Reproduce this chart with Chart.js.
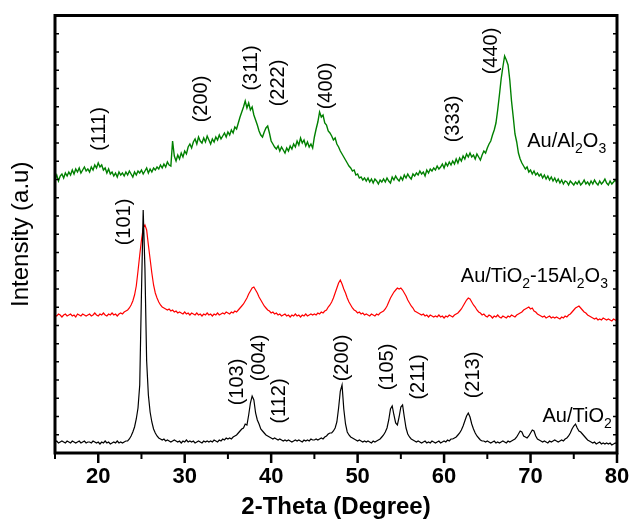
<!DOCTYPE html>
<html><head><meta charset="utf-8">
<script src="https://cdn.jsdelivr.net/npm/chart.js@4.4.1/dist/chart.umd.min.js"></script>
<style>html,body{margin:0;padding:0;background:#fff;}</style>
</head><body>
<canvas id="c" width="630" height="522"></canvas>
<script>
// Scan grid (2-Theta, degrees)
const scanStart = 15, scanStep = 0.2;

// Intensities (arbitrary units, stacked offsets as plotted), one value per 0.2 deg from 15 to 80
const auAl2O3 = [
274,278,272,277,279,275,280,277,281,278,
283,279,284,281,285,280,283,286,282,284,
281,286,283,288,285,290,286,288,283,285,
280,284,279,281,277,280,276,281,278,280,
277,281,278,282,279,276,281,278,282,280,
283,279,282,285,280,284,281,285,283,286,
284,288,285,289,286,291,288,287,312,297,
292,298,294,300,296,302,299,306,309,305,
311,314,309,316,312,310,315,311,317,313,
309,314,311,316,313,318,314,317,320,316,
321,318,323,320,326,324,330,336,341,346,
352,345,350,343,346,338,333,328,322,318,
316,321,325,327,320,312,309,306,304,307,
302,306,303,300,305,302,307,304,309,306,
312,308,315,310,313,307,311,306,309,305,
316,324,331,341,336,338,330,328,322,320,
317,313,315,309,306,302,299,296,293,290,
287,285,282,283,278,279,275,276,273,275,
272,275,271,274,270,274,272,269,273,271,
274,271,275,272,270,276,273,277,274,272,
276,273,278,275,279,276,274,279,277,280,
278,282,279,281,277,283,280,284,282,285,
283,287,284,286,289,285,290,287,291,288,
292,289,294,290,295,292,297,294,299,296,
300,296,298,294,299,296,293,298,302,300,
305,309,312,318,323,330,343,358,374,386,
397,393,388,373,352,336,319,311,300,294,
290,287,284,286,281,283,279,282,278,280,
277,279,275,278,274,277,273,276,272,275,
271,274,270,273,269,272,271,268,272,270,
268,271,269,272,268,270,273,269,271,268,
272,269,273,270,268,272,269,271,274,270,
268,272,269,271,273,270
];
const auTiO2Al2O3 = [
138,137,139,138,136,138,139,137,138,139,
137,138,136,139,138,137,139,138,137,138,
139,137,138,140,138,137,139,138,140,138,
137,139,138,140,138,139,137,139,140,139,
141,142,143,145,148,152,158,167,182,198,
213,225,228,223,208,194,180,168,160,155,
151,148,146,145,144,143,144,142,143,141,
142,140,141,140,139,141,139,140,138,140,
139,138,140,138,139,137,139,138,140,138,
139,137,139,138,140,138,139,140,139,141,
140,139,141,140,142,141,143,145,147,149,
152,155,159,162,165,166,163,160,156,153,
150,147,145,143,142,140,141,139,140,138,
139,137,138,139,137,138,136,138,137,139,
137,138,136,138,137,139,137,138,139,138,
139,138,140,139,141,140,142,143,146,148,
151,155,160,165,170,173,169,164,160,155,
151,148,145,143,142,140,141,139,140,138,
139,138,137,139,138,137,139,138,140,141,
142,144,147,151,155,158,161,163,165,164,
165,163,160,157,153,150,147,145,142,141,
140,139,138,139,137,138,136,138,137,136,
137,136,138,136,137,135,137,136,138,137,
136,138,139,140,142,144,147,150,153,155,
154,151,148,146,143,141,140,138,139,137,
136,138,137,135,137,136,138,136,135,137,
136,135,137,136,138,137,136,138,139,140,
141,143,144,145,146,144,145,142,141,139,
138,137,136,137,135,136,137,135,136,135,
136,135,134,136,135,137,136,138,139,141,
143,145,146,147,145,143,141,140,138,137,
136,135,134,135,133,134,133,135,134,133,
134,133,132,134,133,132
];
const auTiO2 = [
11,12,10,11,12,11,10,12,11,10,
12,11,10,11,12,10,11,12,10,11,
11,10,12,11,10,11,9,11,10,12,
10,11,9,10,11,10,12,10,11,10,
11,12,12,14,17,21,26,34,45,68,
160,243,185,92,58,41,31,24,20,17,
15,14,13,14,12,13,12,11,12,13,
12,11,12,10,12,11,13,11,12,11,
12,10,11,12,11,10,12,11,12,11,
12,11,13,12,11,13,12,14,13,15,
14,15,14,16,17,18,20,22,24,25,
29,28,38,50,57,53,40,33,29,24,
22,20,18,17,16,15,14,15,14,13,
14,13,12,13,12,13,12,11,12,13,
12,13,12,11,13,12,13,12,14,13,
13,14,13,14,15,14,16,17,19,20,
20,22,25,31,45,62,68,44,29,21,
18,16,15,14,13,12,13,12,11,12,
11,12,11,10,12,11,12,13,14,16,
18,21,25,33,44,47,38,30,28,36,
46,48,36,25,19,16,14,13,12,11,
12,11,10,11,12,10,11,10,12,11,
10,11,12,10,11,12,11,13,12,14,
14,15,16,18,20,23,27,32,37,40,
36,29,24,20,17,15,13,12,12,11,
12,11,10,11,12,10,11,10,11,12,
11,10,12,11,12,13,14,16,19,22,
21,17,16,15,17,20,23,22,17,14,
13,12,11,12,11,10,12,11,12,13,
12,11,12,13,12,14,15,17,20,24,
27,29,25,22,21,19,17,15,13,12,
11,10,11,9,10,11,9,10,9,10,
9,10,8,9,10,9
];

const twoTheta = auTiO2.map((_, i) => +(scanStart + i * scanStep).toFixed(1));
const xTickLabels = [20, 30, 40, 50, 60, 70, 80];

// Peak (hkl) annotations: text, 2-Theta, intensity level of label centre
const peakText  = ['(111)','(200)','(311)','(222)','(400)','(333)','(440)','(101)','(103)','(004)','(112)','(200)','(105)','(211)','(213)'];
const peakTheta = [20.2, 31.9, 37.7, 40.9, 46.45, 61.1, 65.5, 22.98, 36.1, 38.7, 41.0, 48.25, 53.5, 57.0, 63.4];
const peakLevel = [324, 354, 385, 370, 367, 334, 402, 231, 71, 95, 52, 95, 86, 76, 78];

// Sample names (parts: [text, isSubscript]), right end 2-Theta and baseline level
const sampleNames = [
  [['Au/Al',0],['2',1],['O',0],['3',1]],
  [['Au/TiO',0],['2',1],['-15Al',0],['2',1],['O',0],['3',1]],
  [['Au/TiO',0],['2',1]]
];
const sampleTheta = [78.75, 78.95, 79.4];
const sampleLevel = [306, 171, 31];

const FONT = '"Liberation Sans", Arial, Helvetica, sans-serif';

const decor = {
  id: 'decor',
  afterDatasetsDraw(chart) {
    const {ctx, chartArea: a, scales: {x, y}} = chart;
    ctx.save();
    ctx.fillStyle = '#000';
    // peak labels
    ctx.font = '20px ' + FONT;
    ctx.textAlign = 'center';
    ctx.textBaseline = 'middle';
    peakText.forEach((t, i) => {
      ctx.save();
      ctx.translate(x.getPixelForValue(peakTheta[i]), y.getPixelForValue(peakLevel[i]));
      ctx.rotate(-Math.PI / 2);
      ctx.fillText(t, 0, 0);
      ctx.restore();
    });
    // sample names with subscripts
    ctx.textAlign = 'left';
    ctx.textBaseline = 'alphabetic';
    const big = '20px ' + FONT, small = '14px ' + FONT;
    sampleNames.forEach((parts, i) => {
      let w = 0;
      parts.forEach(([t, s]) => { ctx.font = s ? small : big; w += ctx.measureText(t).width; });
      let px = x.getPixelForValue(sampleTheta[i]) - w;
      const py = y.getPixelForValue(sampleLevel[i]);
      parts.forEach(([t, s]) => {
        ctx.font = s ? small : big;
        ctx.fillText(t, px, s ? py + 6 : py);
        px += ctx.measureText(t).width;
      });
    });
    // frame
    ctx.strokeStyle = '#000';
    ctx.lineWidth = 3;
    ctx.strokeRect(a.left, a.top, a.right - a.left, a.bottom - a.top);
    // x ticks (outward)
    x.ticks.forEach(t => {
      const px = x.getPixelForValue(t.value);
      const major = xTickLabels.includes(t.value);
      ctx.lineWidth = major ? 2.5 : 2;
      ctx.beginPath();
      ctx.moveTo(px, a.bottom);
      ctx.lineTo(px, a.bottom + (major ? 10 : 6));
      ctx.stroke();
    });
    // y minor ticks (inward, both sides)
    ctx.lineWidth = 1.5;
    const step = (y.max - y.min) / 24;
    for (let k = 1; k < 24; k++) {
      const py = y.getPixelForValue(y.min + k * step);
      ctx.beginPath();
      ctx.moveTo(a.left, py); ctx.lineTo(a.left + 4, py);
      ctx.moveTo(a.right, py); ctx.lineTo(a.right - 4, py);
      ctx.stroke();
    }
    ctx.restore();
  }
};

const mk = (vals) => twoTheta.map((t, i) => ({x: t, y: vals[i]}));

new Chart(document.getElementById('c'), {
  type: 'line',
  data: {
    datasets: [
      {label: 'Au/TiO2', data: mk(auTiO2), borderColor: '#000000', borderWidth: 1.2},
      {label: 'Au/TiO2-15Al2O3', data: mk(auTiO2Al2O3), borderColor: '#ff0000', borderWidth: 1.2},
      {label: 'Au/Al2O3', data: mk(auAl2O3), borderColor: '#008000', borderWidth: 1.4}
    ]
  },
  options: {
    responsive: false,
    animation: false,
    devicePixelRatio: 1,
    layout: {padding: {left: 3.2, right: 13, top: 15.5, bottom: 0}},
    elements: {point: {radius: 0}, line: {tension: 0}},
    plugins: {legend: {display: false}, tooltip: {enabled: false}},
    scales: {
      x: {
        type: 'linear', min: 15, max: 80,
        grid: {display: false, drawTicks: false},
        border: {display: false},
        afterFit: s => { s.height = 69; s.paddingRight = 0; s.paddingLeft = 0; },
        ticks: {
          stepSize: 5, autoSkip: false, maxRotation: 0, padding: 11, color: '#000',
          font: {family: FONT, size: 22, weight: 'bold'},
          callback: v => xTickLabels.includes(v) ? String(v) : ''
        },
        title: {display: true, text: '2-Theta (Degree)', color: '#000',
          font: {family: FONT, size: 24, weight: 'bold'}, padding: {top: 3, bottom: 0}}
      },
      y: {
        min: 0, max: 437.5,
        grid: {display: false, drawTicks: false},
        border: {display: false},
        ticks: {display: false},
        title: {display: true, text: 'Intensity (a.u)', color: '#000',
          font: {family: FONT, size: 24}, padding: {top: 4, bottom: 19}}
      }
    }
  },
  plugins: [decor]
});
</script>
</body></html>
